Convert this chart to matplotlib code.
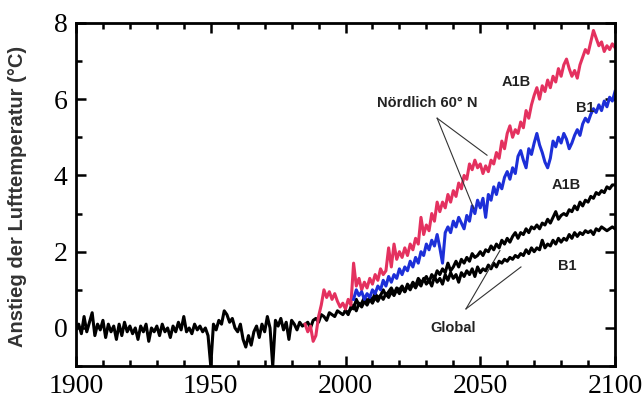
import numpy as np
import matplotlib
matplotlib.use('Agg')
import matplotlib.pyplot as plt
from matplotlib.ticker import MultipleLocator

# historische Beobachtung 1900-2000
hist_years = np.arange(1900, 2001)
hist_vals = [
    -0.05, 0.1, -0.15, 0.3, -0.1, 0.15, 0.4, -0.2, 0.1, -0.05,
    0.2, -0.25, 0.1, -0.1, 0.05, -0.3, 0.1, -0.2, 0.15, -0.1,
    0.05, -0.15, 0.0, -0.3, 0.05, -0.1, 0.1, -0.35, 0.0, -0.1,
    0.05, -0.2, 0.1, -0.1, 0.0, -0.25, 0.05, -0.1, 0.15, -0.05,
    0.3, -0.1, 0.0, -0.15, 0.1, -0.05, 0.05, -0.1, 0.0, -0.2,
    -1.0, 0.1, -0.05, 0.2, 0.1, 0.45, 0.35, 0.15, 0.25, 0.0,
    -0.1, 0.1, -0.3, -0.5, -0.2, -0.45, -0.1, 0.05, -0.25, 0.1,
    -0.1, 0.3, 0.0, -1.0, 0.2, 0.05, 0.25, -0.05, 0.15, -0.3,
    0.2, 0.1, -0.05, 0.15, 0.05, 0.1, 0.15, 0.0, 0.2, 0.25,
    0.15, 0.35, 0.3, 0.2, 0.4, 0.35, 0.3, 0.45, 0.4, 0.35,
    0.45,
]

# Global A1B / B1, 2000-2100
proj_years = np.arange(2000, 2101)
glob_a1b = [
    0.45, 0.35, 0.55, 0.5, 0.75, 0.6, 0.65, 0.8, 0.7, 0.8,
    0.75, 0.9, 0.8, 0.85, 1.0, 0.85, 0.95, 1.05, 0.9, 1.05,
    1.0, 1.1, 0.95, 1.15, 1.05, 1.2, 1.1, 1.3, 1.2, 1.25,
    1.35, 1.2, 1.4, 1.3, 1.5, 1.4, 1.55, 1.45, 1.7, 1.5,
    1.6, 1.75, 1.6, 1.8, 1.7, 1.85, 1.75, 1.95, 1.85, 1.9,
    2.0, 1.9, 2.05, 2.0, 2.15, 2.05, 2.2, 2.1, 2.3, 2.2,
    2.35, 2.25, 2.4, 2.5, 2.35, 2.5, 2.45, 2.6, 2.5, 2.65,
    2.6, 2.7, 2.6, 2.75, 2.7, 2.85, 2.75, 2.9, 3.05, 2.85,
    2.95, 3.0, 2.95, 3.1, 3.05, 3.2, 3.1, 3.3, 3.2, 3.35,
    3.3, 3.45, 3.4, 3.55, 3.5, 3.6, 3.55, 3.7, 3.65, 3.75,
    3.75,
]
glob_b1 = [
    0.45, 0.4, 0.5, 0.6, 0.45, 0.65, 0.55, 0.7, 0.6, 0.75,
    0.65, 0.8, 0.7, 0.85, 0.75, 0.9, 0.8, 0.95, 0.85, 1.0,
    0.9, 1.05, 0.95, 1.1, 1.0, 1.15, 1.05, 1.2, 1.1, 1.3,
    1.15, 1.25, 1.1, 1.35, 1.2, 1.3, 1.15, 1.4, 1.25, 1.45,
    1.3, 1.4, 1.2, 1.45, 1.35, 1.5, 1.4, 1.55, 1.35, 1.6,
    1.45, 1.55, 1.5, 1.65, 1.55, 1.7, 1.6, 1.75, 1.7, 1.8,
    1.75, 1.85, 1.8, 1.9, 1.85, 1.95, 1.9, 2.05, 1.95, 2.1,
    2.0, 2.1, 2.05, 2.3, 2.1, 2.2, 2.15, 2.3, 2.2, 2.35,
    2.25, 2.35, 2.3, 2.45, 2.35, 2.5, 2.4, 2.5, 2.45, 2.55,
    2.5, 2.55, 2.45, 2.6, 2.55, 2.65, 2.6, 2.55, 2.6, 2.65,
    2.6,
]

# Nördlich 60° N, A1B 1985-2100
n60_a1b_years = np.arange(1985, 2101)
n60_a1b = [
    0.1, -0.1, 0.05, -0.35, -0.2,
    0.3, 0.6, 1.0, 0.8, 0.95, 0.75, 0.9, 0.7, 0.55, 0.65,
    0.5, 0.75, 0.6, 1.7, 1.1, 1.3, 1.0, 1.2, 1.05, 1.3,
    1.15, 1.4, 1.25, 1.55, 1.4, 1.5, 2.1, 1.6, 2.2, 1.8,
    2.0, 1.85, 2.1, 1.9, 2.2, 2.05, 2.35, 2.2, 2.9, 2.45,
    2.7, 2.55, 3.0, 2.8, 3.3, 3.05, 3.3, 3.15, 3.5, 3.3,
    3.6, 3.45, 3.8, 3.65, 4.0, 3.9, 4.3, 4.15, 4.4, 4.2,
    4.3, 4.05, 4.25, 4.1, 4.4, 4.3, 4.6, 4.45, 4.9, 4.7,
    5.1, 5.3, 5.0, 5.2, 5.1, 5.4, 5.25, 5.7, 5.5, 5.85,
    6.1, 6.3, 6.0, 6.35, 6.2, 6.5, 6.3, 6.6, 6.45, 6.8,
    6.6, 6.9, 7.05, 6.8, 6.6, 6.75, 6.55, 6.9, 7.1, 7.3,
    7.2, 7.5, 7.8, 7.6, 7.4, 7.5, 7.25, 7.4, 7.3, 7.45,
    7.35,
]

# Nördlich 60° N, B1 2003-2100
n60_b1_years = np.arange(2003, 2101)
n60_b1 = [
    0.75, 1.0, 0.85, 0.95, 0.75, 0.9, 0.8,
    1.0, 0.9, 1.1, 1.0, 1.25, 1.1, 1.35, 1.2, 1.4, 1.3,
    1.55, 1.4, 1.6, 1.5, 1.75, 1.6, 1.85, 1.7, 2.0, 1.9,
    2.2, 2.05, 2.3, 2.15, 2.45, 2.1, 1.7, 2.5, 2.65, 2.5,
    2.8, 2.65, 2.9, 2.75, 2.6, 2.95, 2.8, 3.2, 3.0, 3.35,
    3.15, 3.4, 2.9, 3.5, 3.35, 3.7, 3.5, 3.8, 3.65, 3.95,
    4.1, 3.9, 4.2, 4.05, 4.5, 4.65, 4.4, 4.2, 4.7, 4.55,
    4.85, 5.1, 4.8, 4.6, 4.35, 4.2, 4.45, 4.9, 4.75, 5.0,
    4.85, 5.1, 4.95, 4.7, 4.85, 5.05, 5.2, 5.05, 5.35, 5.5,
    5.4, 5.6, 5.75, 5.65, 5.85, 5.7, 5.95, 5.8, 6.05, 5.95,
    6.2,
]

fig = plt.figure(figsize=(6.44, 4.01), dpi=100)
ax = fig.add_axes([0.118, 0.087, 0.837, 0.856])

ax.plot(hist_years, hist_vals, color='black', lw=2.2)
ax.plot(proj_years, glob_a1b, color='black', lw=2.2)
ax.plot(proj_years, glob_b1, color='black', lw=2.2)
ax.plot(n60_a1b_years, n60_a1b, color='#e4315f', lw=2.2)
ax.plot(n60_b1_years, n60_b1, color='#1d2fd8', lw=2.2)

# Beschriftungen
tkw = dict(fontsize=10.5, fontweight='bold', color='#222222', family='Liberation Sans')
ax.text(2030.2, 5.89, 'Nördlich 60° N', ha='center', va='center', **tkw)
ax.text(2063.5, 6.45, 'A1B', ha='center', va='center', **tkw)
ax.text(2088.9, 5.76, 'B1', ha='center', va='center', **tkw)
ax.text(2081.8, 3.74, 'A1B', ha='center', va='center', **tkw)
ax.text(2082.4, 1.63, 'B1', ha='center', va='center', **tkw)
ax.text(2040.1, 0.0, 'Global', ha='center', va='center', **tkw)

lkw = dict(color='#333333', lw=0.8)
ax.plot([2034.0, 2052.5], [5.5, 4.53], **lkw)
ax.plot([2034.0, 2047.6], [5.5, 3.13], **lkw)
ax.plot([2044.7, 2057.3], [0.5, 2.03], **lkw)
ax.plot([2044.7, 2065.1], [0.5, 1.6], **lkw)

ax.set_xlim(1900, 2100)
ax.set_ylim(-1, 8)
ax.xaxis.set_major_locator(MultipleLocator(50))
ax.xaxis.set_minor_locator(MultipleLocator(10))
ax.yaxis.set_major_locator(MultipleLocator(2))
ax.yaxis.set_minor_locator(MultipleLocator(1))
ax.tick_params(which='both', direction='in', top=True, right=True, width=1.8)
ax.tick_params(which='major', length=7, pad=6)
ax.tick_params(which='minor', length=4)
for lab in ax.get_xticklabels() + ax.get_yticklabels():
    lab.set_family('Liberation Serif')
    lab.set_fontsize(20)
for sp in ax.spines.values():
    sp.set_linewidth(2)

fig.text(0.027, 0.51, 'Anstieg der Lufttemperatur (°C)', rotation=90,
         ha='center', va='center', fontsize=14.5, fontweight='bold',
         color='#333333', family='Liberation Sans')

fig.savefig('out.png', dpi=100)
